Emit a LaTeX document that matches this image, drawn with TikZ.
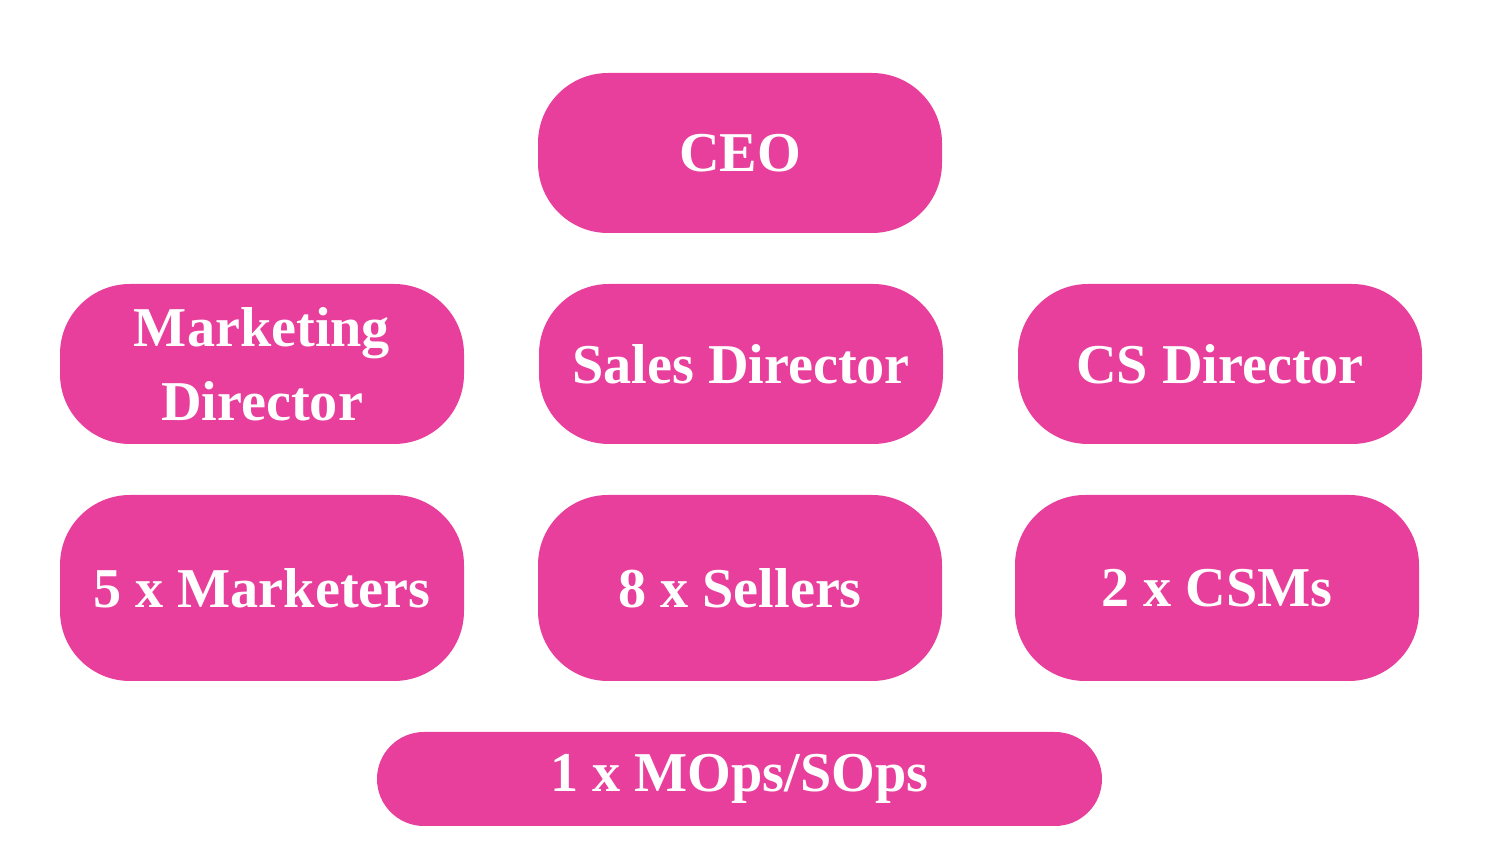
\documentclass[tikz,border=0pt]{standalone}
\usepackage{fontspec}
\setmainfont{Liberation Serif}
\usetikzlibrary{positioning}
\definecolor{rolepink}{HTML}{E83E9C}

\begin{document}
\begin{tikzpicture}
  [
    role/.style={rectangle,rounded corners=0.7cm,fill=rolepink,text=white,
      font=\fontsize{16}{21}\selectfont\bfseries,align=center,
      minimum width=4.04cm,minimum height=1.6cm,inner sep=0pt},
    tallrole/.style={role,minimum height=1.86cm},
    widerole/.style={role,rounded corners=0.47cm,minimum width=7.25cm,minimum height=0.94cm}
  ]
  \useasboundingbox (0,0) rectangle (15,8.63);
  \node[role] (ceo) at (7.40,7.10) {CEO};
  \node[role] (marketing director) at (2.62,4.99) {Marketing\\Director};
  \node[role] (sales director) at (7.41,4.99) {Sales Director};
  \node[role] (cs director) at (12.20,4.99) {CS Director};
  \node[tallrole] (marketers) at (2.62,2.75) {5 x Marketers};
  \node[tallrole] (sellers) at (7.40,2.75) {8 x Sellers};
  \node[tallrole] (csms) at (12.17,2.75) {2 x CSMs};
  \node[widerole] (ops) at (7.395,0.84) {1 x MOps/SOps};
\end{tikzpicture}
\end{document}
